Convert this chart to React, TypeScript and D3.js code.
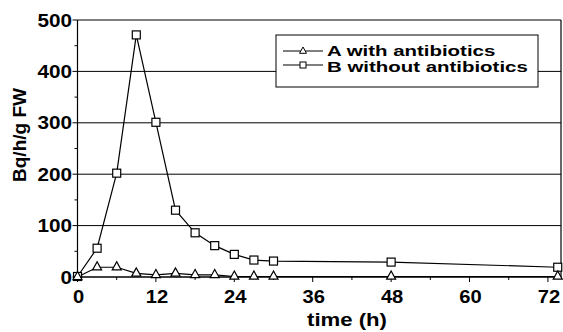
import { useEffect, useRef } from 'react';
import * as d3 from 'd3';

// sampling times (h)
const times = [0, 3, 6, 9, 12, 15, 18, 21, 24, 27, 30, 48, 73.5];
// A with antibiotics
const seriesA = [0, 19, 19, 7, 4, 7, 4, 4, 1, 1, 1, 1, 1];
// B without antibiotics
const seriesB = [1, 56, 202, 471, 301, 130, 86, 61, 44, 33, 31, 29, 19];

const xTicks = [0, 12, 24, 36, 48, 60, 72];
const yTicks = [0, 100, 200, 300, 400, 500];
const legendLabels = ['A with antibiotics', 'B without antibiotics'];

const W = 563;
const H = 332;
const FONT = '"Liberation Sans", Arial, sans-serif';

export default function App() {
  const svgRef = useRef<SVGSVGElement | null>(null);

  useEffect(() => {
    if (!svgRef.current) return;
    const svg = d3.select(svgRef.current);
    svg.selectAll('*').remove();

    const x = d3.scaleLinear().domain([0, 74]).range([77.5, 561]);
    const y = d3.scaleLinear().domain([0, 500]).range([277, 20]);

    // gridlines
    svg.append('g')
      .selectAll('line')
      .data(yTicks.filter(d => d > 0))
      .join('line')
      .attr('x1', x(0)).attr('x2', x(74))
      .attr('y1', d => y(d)).attr('y2', d => y(d))
      .attr('stroke', '#000').attr('stroke-width', 1);

    // frame: left axis, right border, bottom axis
    svg.append('line').attr('x1', x(0)).attr('x2', x(0)).attr('y1', y(500)).attr('y2', y(0))
      .attr('stroke', '#000').attr('stroke-width', 1.2);
    svg.append('line').attr('x1', x(74)).attr('x2', x(74)).attr('y1', y(500)).attr('y2', y(0))
      .attr('stroke', '#000').attr('stroke-width', 1.2);
    svg.append('line').attr('x1', x(0)).attr('x2', x(74)).attr('y1', y(0)).attr('y2', y(0))
      .attr('stroke', '#000').attr('stroke-width', 1.5);

    // y ticks (major 100, minor 50)
    svg.append('g')
      .selectAll('line')
      .data(d3.range(0, 501, 50))
      .join('line')
      .attr('x1', d => x(0) - (d % 100 === 0 ? 5 : 3)).attr('x2', x(0))
      .attr('y1', d => y(d)).attr('y2', d => y(d))
      .attr('stroke', '#000');

    // x ticks (major 12, minor 6)
    svg.append('g')
      .selectAll('line')
      .data(d3.range(0, 73, 6))
      .join('line')
      .attr('x1', d => x(d)).attr('x2', d => x(d))
      .attr('y1', y(0)).attr('y2', d => y(0) + (d % 12 === 0 ? 5 : 3))
      .attr('stroke', '#000');

    // y tick labels
    svg.append('g')
      .selectAll('g')
      .data(yTicks)
      .join('g')
      .attr('transform', d => `translate(72,${y(d) + 6.5})`)
      .append('text')
      .attr('transform', 'scale(1.15,1)')
      .attr('text-anchor', 'end')
      .attr('font-family', FONT).attr('font-weight', 'bold').attr('font-size', 18)
      .text(d => d);

    // x tick labels
    svg.append('g')
      .selectAll('g')
      .data(xTicks)
      .join('g')
      .attr('transform', d => `translate(${x(d) + 1},303)`)
      .append('text')
      .attr('transform', 'scale(1.12,1)')
      .attr('text-anchor', 'middle')
      .attr('font-family', FONT).attr('font-weight', 'bold').attr('font-size', 18)
      .text(d => d);

    // axis titles
    svg.append('text')
      .attr('x', 347).attr('y', 326)
      .attr('text-anchor', 'middle')
      .attr('textLength', 80).attr('lengthAdjust', 'spacingAndGlyphs')
      .attr('font-family', FONT).attr('font-weight', 'bold').attr('font-size', 18)
      .text('time (h)');
    svg.append('text')
      .attr('transform', 'translate(26,135) rotate(-90)')
      .attr('text-anchor', 'middle')
      .attr('font-family', FONT).attr('font-weight', 'bold').attr('font-size', 19)
      .text('Bq/h/g FW');

    const line = d3.line<number>().x((_, i) => x(times[i])).y(d => y(d));
    const triangle = (cx: number, cy: number, s: number) =>
      `M${cx},${cy - s}L${cx - s},${cy + s * 0.8}L${cx + s},${cy + s * 0.8}Z`;

    // series lines
    svg.append('path').datum(seriesB).attr('d', line)
      .attr('fill', 'none').attr('stroke', '#000').attr('stroke-width', 1.2);
    svg.append('path').datum(seriesA).attr('d', line)
      .attr('fill', 'none').attr('stroke', '#000').attr('stroke-width', 1.2);

    // markers
    svg.append('g')
      .selectAll('rect')
      .data(seriesB)
      .join('rect')
      .attr('x', (_, i) => x(times[i]) - 4).attr('y', d => y(d) - 4)
      .attr('width', 8).attr('height', 8)
      .attr('fill', '#fff').attr('stroke', '#000').attr('stroke-width', 1.2);
    svg.append('g')
      .selectAll('path')
      .data(seriesA)
      .join('path')
      .attr('d', (d, i) => triangle(x(times[i]), y(d) - 1, 4.5))
      .attr('fill', '#fff').attr('stroke', '#000').attr('stroke-width', 1.2);

    // legend
    const lg = svg.append('g');
    lg.append('rect').attr('x', 276).attr('y', 35).attr('width', 262).attr('height', 52)
      .attr('fill', '#fff').attr('stroke', '#000').attr('stroke-width', 1);
    const rows = [51, 65];
    legendLabels.forEach((label, i) => {
      const ry = rows[i];
      lg.append('line').attr('x1', 283).attr('x2', 323).attr('y1', ry).attr('y2', ry)
        .attr('stroke', '#000').attr('stroke-width', 1.2);
      if (i === 0) {
        lg.append('path').attr('d', triangle(303, ry - 0.5, 3.5))
          .attr('fill', '#fff').attr('stroke', '#000');
      } else {
        lg.append('rect').attr('x', 300).attr('y', ry - 3).attr('width', 6).attr('height', 6)
          .attr('fill', '#fff').attr('stroke', '#000');
      }
      lg.append('g').attr('transform', `translate(327,${56 + i * 16})`)
        .append('text')
        .attr('transform', 'scale(1.46,1)')
        .attr('font-family', FONT).attr('font-weight', 'bold').attr('font-size', 14)
        .text(label);
    });
  }, []);

  return (
    <svg
      ref={svgRef}
      width={W}
      height={H}
      style={{ position: 'absolute', left: 0, top: 0, background: '#fff' }}
    />
  );
}
